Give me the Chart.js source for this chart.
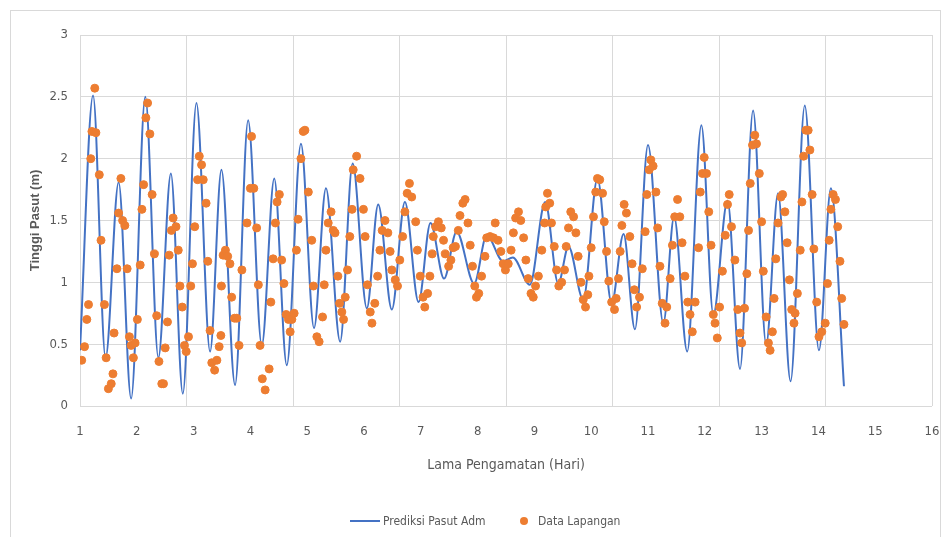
<!DOCTYPE html>
<html>
<head>
<meta charset="utf-8">
<title>Prediksi Pasut</title>
<script src="https://cdn.jsdelivr.net/npm/chart.js@4.4.0/dist/chart.umd.min.js"></script>
<style>
    html, body { margin: 0; padding: 0; background: #fff; }
    #wrap { position: relative; width: 943px; height: 537px; overflow: hidden; }
    #frame { position: absolute; left: 10px; top: 10px; width: 931px; height: 530px; border: 1px solid #d9d9d9; box-sizing: border-box; }
    #chart { position: absolute; left: 0; top: 0; }
    .leg { position: absolute; font: 12px 'Liberation Sans Narrow', 'DejaVu Sans Condensed', sans-serif; color: #595959; line-height: 14px; }
    .leg-line { position: absolute; left: 350px; top: 520px; width: 30px; height: 2px; background: #4472C4; }
    .leg-dot { position: absolute; left: 520px; top: 517px; width: 8px; height: 8px; border-radius: 50%; background: #ED7D31; }
</style>
</head>
<body>
<div id="wrap">
    <div id="frame"></div>
    <canvas id="chart" width="943" height="537"></canvas>
    <div class="leg-line"></div>
    <div class="leg" style="left:383px; top:514px;">Prediksi Pasut Adm</div>
    <div class="leg-dot"></div>
    <div class="leg" style="left:538px; top:514px;">Data Lapangan</div>
</div>
<script>
// Predicted tide (turning points)
const lineDays = [
    1.00, 1.23, 1.45, 1.68, 1.90, 2.15, 2.38, 2.60, 2.81, 3.05,
    3.29, 3.49, 3.73, 3.96, 4.20, 4.42, 4.64, 4.89, 5.12, 5.33,
    5.58, 5.80, 6.05, 6.25, 6.49, 6.72, 6.96, 7.17, 7.41, 7.63,
    7.94, 8.16, 8.45, 8.62, 8.92, 9.19, 9.42, 9.60, 9.86, 10.11,
    10.36, 10.57, 10.77, 11.00, 11.27, 11.46, 11.69, 11.94, 12.15, 12.40,
    12.62, 12.85, 13.08, 13.29, 13.51, 13.76, 14.01, 14.22, 14.45
];
const lineLevels = [
    0.45, 2.51, 0.39, 1.81, 0.06, 2.50, 0.39, 1.88, 0.10, 2.45,
    0.44, 1.91, 0.17, 2.31, 0.49, 1.84, 0.33, 2.12, 0.63, 1.76,
    0.52, 1.96, 0.79, 1.63, 0.78, 1.65, 0.84, 1.48, 1.03, 1.41,
    0.99, 1.38, 1.17, 1.20, 0.98, 1.65, 0.99, 1.29, 0.86, 1.84,
    0.83, 1.39, 0.62, 2.11, 0.67, 1.53, 0.44, 2.27, 0.74, 1.66,
    0.30, 2.39, 0.50, 1.72, 0.20, 2.43, 0.45, 1.76, 0.16
];

// Field observations
const fieldDays = [
    1.03, 1.08, 1.12, 1.15, 1.19, 1.21, 1.26, 1.28, 1.34, 1.37,
    1.43, 1.46, 1.50, 1.55, 1.58, 1.60, 1.65, 1.68, 1.72, 1.75,
    1.79, 1.83, 1.87, 1.90, 1.94, 1.97, 2.01, 2.06, 2.09, 2.12,
    2.16, 2.19, 2.23, 2.27, 2.31, 2.35, 2.39, 2.44, 2.47, 2.50,
    2.54, 2.57, 2.61, 2.64, 2.69, 2.73, 2.76, 2.80, 2.84, 2.87,
    2.91, 2.95, 2.98, 3.02, 3.07, 3.10, 3.14, 3.17, 3.22, 3.25,
    3.29, 3.32, 3.37, 3.41, 3.45, 3.48, 3.49, 3.52, 3.56, 3.60,
    3.64, 3.67, 3.72, 3.76, 3.80, 3.85, 3.94, 4.00, 4.02, 4.06,
    4.11, 4.14, 4.17, 4.21, 4.26, 4.33, 4.36, 4.40, 4.44, 4.47,
    4.51, 4.55, 4.59, 4.63, 4.67, 4.70, 4.73, 4.77, 4.81, 4.84,
    4.89, 4.93, 4.96, 5.02, 5.08, 5.11, 5.17, 5.21, 5.27, 5.30,
    5.33, 5.37, 5.42, 5.46, 5.49, 5.54, 5.57, 5.61, 5.64, 5.67,
    5.71, 5.75, 5.79, 5.81, 5.87, 5.93, 5.99, 6.02, 6.06, 6.11,
    6.14, 6.19, 6.24, 6.28, 6.32, 6.37, 6.42, 6.46, 6.49, 6.55,
    6.59, 6.63, 6.68, 6.72, 6.76, 6.80, 6.84, 6.91, 6.94, 6.99,
    7.04, 7.07, 7.12, 7.16, 7.20, 7.22, 7.26, 7.31, 7.36, 7.40,
    7.43, 7.49, 7.53, 7.57, 7.61, 7.66, 7.69, 7.74, 7.78, 7.83,
    7.87, 7.91, 7.95, 7.98, 8.02, 8.07, 8.13, 8.16, 8.22, 8.28,
    8.31, 8.36, 8.41, 8.45, 8.49, 8.54, 8.59, 8.63, 8.67, 8.72,
    8.76, 8.81, 8.85, 8.89, 8.94, 8.98, 9.02, 9.07, 9.13, 9.18,
    9.20, 9.23, 9.27, 9.30, 9.35, 9.39, 9.43, 9.48, 9.53, 9.56,
    9.60, 9.64, 9.69, 9.73, 9.77, 9.82, 9.86, 9.90, 9.94, 9.96,
    10.00, 10.04, 10.08, 10.11, 10.15, 10.20, 10.23, 10.27, 10.31, 10.36,
    10.41, 10.44, 10.48, 10.51, 10.54, 10.58, 10.62, 10.68, 10.72, 10.76,
    10.80, 10.85, 10.90, 10.95, 10.98, 11.02, 11.05, 11.09, 11.14, 11.17,
    11.21, 11.25, 11.30, 11.33, 11.39, 11.43, 11.47, 11.52, 11.56, 11.60,
    11.65, 11.70, 11.74, 11.78, 11.83, 11.89, 11.92, 11.96, 11.99, 12.03,
    12.07, 12.11, 12.15, 12.18, 12.22, 12.26, 12.31, 12.36, 12.40, 12.43,
    12.47, 12.53, 12.58, 12.62, 12.65, 12.70, 12.74, 12.77, 12.80, 12.84,
    12.88, 12.91, 12.96, 13.00, 13.03, 13.08, 13.12, 13.15, 13.19, 13.22,
    13.25, 13.29, 13.34, 13.37, 13.41, 13.45, 13.49, 13.53, 13.57, 13.59,
    13.63, 13.68, 13.71, 13.74, 13.78, 13.82, 13.85, 13.89, 13.92, 13.97,
    14.01, 14.06, 14.12, 14.16, 14.19, 14.22, 14.26, 14.30, 14.34, 14.38,
    14.41, 14.45
];
const fieldLevels = [
    0.37, 0.48, 0.70, 0.82, 2.00, 2.22, 2.57, 2.21, 1.87, 1.34,
    0.82, 0.39, 0.14, 0.18, 0.26, 0.59, 1.11, 1.56, 1.84, 1.50,
    1.46, 1.11, 0.56, 0.49, 0.39, 0.51, 0.70, 1.14, 1.59, 1.79,
    2.33, 2.45, 2.20, 1.71, 1.23, 0.73, 0.36, 0.18, 0.18, 0.47,
    0.68, 1.22, 1.42, 1.52, 1.45, 1.26, 0.97, 0.80, 0.49, 0.44,
    0.56, 0.97, 1.15, 1.45, 1.83, 2.02, 1.95, 1.83, 1.64, 1.17,
    0.61, 0.35, 0.29, 0.37, 0.48, 0.57, 0.97, 1.22, 1.26, 1.21,
    1.15, 0.88, 0.71, 0.71, 0.49, 1.10, 1.48, 1.76, 2.18, 1.76,
    1.44, 0.98, 0.49, 0.22, 0.13, 0.30, 0.84, 1.19, 1.48, 1.65,
    1.71, 1.18, 0.99, 0.74, 0.70, 0.60, 0.70, 0.75, 1.26, 1.51,
    2.00, 2.22, 2.23, 1.73, 1.34, 0.97, 0.56, 0.52, 0.72, 0.98,
    1.26, 1.48, 1.57, 1.42, 1.40, 1.05, 0.83, 0.76, 0.70, 0.88,
    1.10, 1.37, 1.59, 1.91, 2.02, 1.84, 1.59, 1.37, 0.98, 0.76,
    0.67, 0.83, 1.05, 1.26, 1.42, 1.50, 1.40, 1.25, 1.10, 1.02,
    0.97, 1.18, 1.37, 1.57, 1.72, 1.80, 1.69, 1.49, 1.26, 1.05,
    0.88, 0.80, 0.91, 1.05, 1.23, 1.37, 1.45, 1.49, 1.44, 1.34,
    1.23, 1.13, 1.18, 1.28, 1.29, 1.42, 1.54, 1.64, 1.67, 1.48,
    1.30, 1.13, 0.97, 0.88, 0.91, 1.05, 1.21, 1.36, 1.37, 1.36,
    1.48, 1.34, 1.25, 1.15, 1.10, 1.15, 1.26, 1.40, 1.52, 1.57,
    1.50, 1.36, 1.18, 1.03, 0.91, 0.88, 0.97, 1.05, 1.26, 1.48,
    1.61, 1.72, 1.64, 1.48, 1.29, 1.10, 0.97, 1.00, 1.10, 1.29,
    1.44, 1.57, 1.53, 1.40, 1.21, 1.00, 0.86, 0.80, 0.90, 1.05,
    1.28, 1.53, 1.73, 1.84, 1.83, 1.72, 1.49, 1.25, 1.01, 0.84,
    0.78, 0.87, 1.03, 1.25, 1.46, 1.63, 1.56, 1.37, 1.15, 0.94,
    0.80, 0.88, 1.11, 1.41, 1.71, 1.91, 1.99, 1.94, 1.73, 1.44,
    1.13, 0.83, 0.67, 0.80, 1.03, 1.30, 1.53, 1.67, 1.53, 1.32,
    1.05, 0.84, 0.74, 0.60, 0.84, 1.28, 1.73, 1.88, 2.01, 1.88,
    1.57, 1.30, 0.74, 0.67, 0.55, 0.80, 1.09, 1.38, 1.63, 1.71,
    1.45, 1.18, 0.78, 0.59, 0.51, 0.79, 1.07, 1.42, 1.80, 2.11,
    2.19, 2.12, 1.88, 1.49, 1.09, 0.72, 0.51, 0.45, 0.60, 0.87,
    1.19, 1.48, 1.69, 1.71, 1.57, 1.32, 1.02, 0.78, 0.67, 0.75,
    0.91, 1.26, 1.65, 2.02, 2.23, 2.23, 2.07, 1.71, 1.27, 0.84,
    0.56, 0.60, 0.67, 0.99, 1.34, 1.59, 1.71, 1.67, 1.45, 1.17,
    0.87, 0.66
];

// Axis ticks
const xTickValues = [1, 2, 3, 4, 5, 6, 7, 8, 9, 10, 11, 12, 13, 14, 15, 16];
const yTickValues = [0, 0.5, 1, 1.5, 2, 2.5, 3];

const fontFamily = "'Liberation Sans Narrow', 'DejaVu Sans Condensed', sans-serif";
const textColor = '#595959';
const gridColor = '#d9d9d9';

const predictionPoints = lineDays.map((d, i) => ({ x: d, y: lineLevels[i] }));
const fieldPoints = fieldDays.map((d, i) => ({ x: d, y: fieldLevels[i] }));

const ctx = document.getElementById('chart').getContext('2d');

new Chart(ctx, {
    type: 'line',
    data: {
        datasets: [
            {
                label: 'Data Lapangan',
                data: fieldPoints,
                showLine: false,
                pointRadius: 4,
                pointBorderWidth: 1,
                pointBackgroundColor: '#ED7D31',
                pointBorderColor: '#ED7D31',
                xAxisID: 'x',
                order: 0
            },
            {
                label: 'Prediksi Pasut Adm',
                data: predictionPoints,
                borderColor: '#4472C4',
                borderWidth: 2,
                pointRadius: 0,
                fill: false,
                cubicInterpolationMode: 'monotone',
                xAxisID: 'x',
                order: 1
            }
        ]
    },
    options: {
        responsive: false,
        animation: false,
        layout: {
            padding: { left: 10, right: 11, top: 35, bottom: 51 }
        },
        plugins: {
            legend: { display: false },
            tooltip: { enabled: false }
        },
        scales: {
            x: {
                type: 'linear',
                position: 'bottom',
                min: 1,
                max: 16,
                afterBuildTicks: function(scale) {
                    scale.ticks = xTickValues.map(v => ({ value: v }));
                },
                ticks: {
                    padding: 18,
                    color: textColor,
                    autoSkip: false,
                    maxRotation: 0,
                    font: { family: fontFamily, size: 13 }
                },
                grid: { display: false, drawTicks: false },
                border: { display: false },
                title: {
                    display: true,
                    text: 'Lama Pengamatan (Hari)',
                    color: textColor,
                    font: { family: fontFamily, size: 14 },
                    padding: { top: 0, bottom: 12 }
                },
                afterFit: function(scale) {
                    scale.height = 80;
                    scale.paddingLeft = 0;
                    scale.paddingRight = 0;
                }
            },
            xg: {
                type: 'linear',
                position: 'top',
                min: 1,
                max: 16,
                ticks: { display: false, stepSize: 1.875 },
                grid: { color: gridColor, drawTicks: false },
                border: { display: false },
                afterFit: function(scale) {
                    scale.height = 0;
                    scale.paddingLeft = 0;
                    scale.paddingRight = 0;
                }
            },
            y: {
                min: 0,
                max: 3,
                afterBuildTicks: function(scale) {
                    scale.ticks = yTickValues.map(v => ({ value: v }));
                },
                ticks: {
                    padding: 12,
                    color: textColor,
                    font: { family: fontFamily, size: 13 },
                    callback: value => String(value)
                },
                grid: { color: gridColor, drawTicks: false },
                border: { display: false },
                title: {
                    display: true,
                    text: 'Tinggi Pasut (m)',
                    color: textColor,
                    font: { family: "'Liberation Sans', 'DejaVu Sans', sans-serif", size: 13, weight: 'bold' },
                    padding: { top: 18, bottom: 0 }
                },
                afterFit: function(scale) { scale.width = 70; }
            }
        }
    }
});
</script>
</body>
</html>
